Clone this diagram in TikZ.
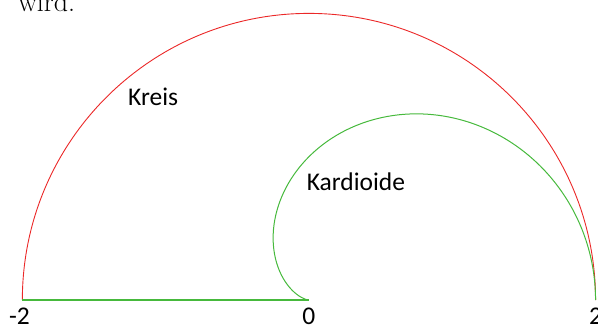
\documentclass[tikz,border=0pt]{standalone}
\usepackage{fontspec}
\newfontfamily\labelfont{Carlito}
\definecolor{kreisred}{RGB}{235,40,40}
\definecolor{kardgreen}{RGB}{70,185,60}
\begin{document}
\begin{tikzpicture}[x=143.3pt,y=143.3pt,
  lbl/.style={font=\labelfont\fontsize{25.5}{28}\selectfont,inner sep=0pt,anchor=base},
  kreisline/.style={draw=kreisred,line width=0.9pt},
  kardline/.style={draw=kardgreen,line width=1pt}]
\useasboundingbox (-2.156,-0.2024) rectangle (2.017,2.0935);
\coordinate (O) at (0,0);
\coordinate (L) at (-2,0);
\coordinate (R) at (2,0);
% Kreis
\draw[kreisline] (R) arc[start angle=0,end angle=180,radius=2];
% Kardioide
\draw[kardline,domain=0:180,samples=240,smooth,variable=\t]
  plot ({(1+cos(\t))*cos(\t)},{(1+cos(\t))*sin(\t)});
\draw[kardgreen,line width=1.5pt] (L) -- (O);
% Labels
\node[lbl,anchor=base west] (kreis) at (-1.263,1.354) {Kreis};
\node[lbl,anchor=base west] (kard) at (-0.016,0.763) {Kardioide};
\node[lbl] (m2) at (-2.02,-0.168) {-2};
\node[lbl] (z0) at (0,-0.168) {0};
\node[lbl] (p2) at (2.0,-0.168) {2};
\node[font=\fontsize{28}{30}\selectfont,inner sep=0pt,anchor=base west] (wird) at (-2.03,2.016) {wird.};
\end{tikzpicture}
\end{document}
